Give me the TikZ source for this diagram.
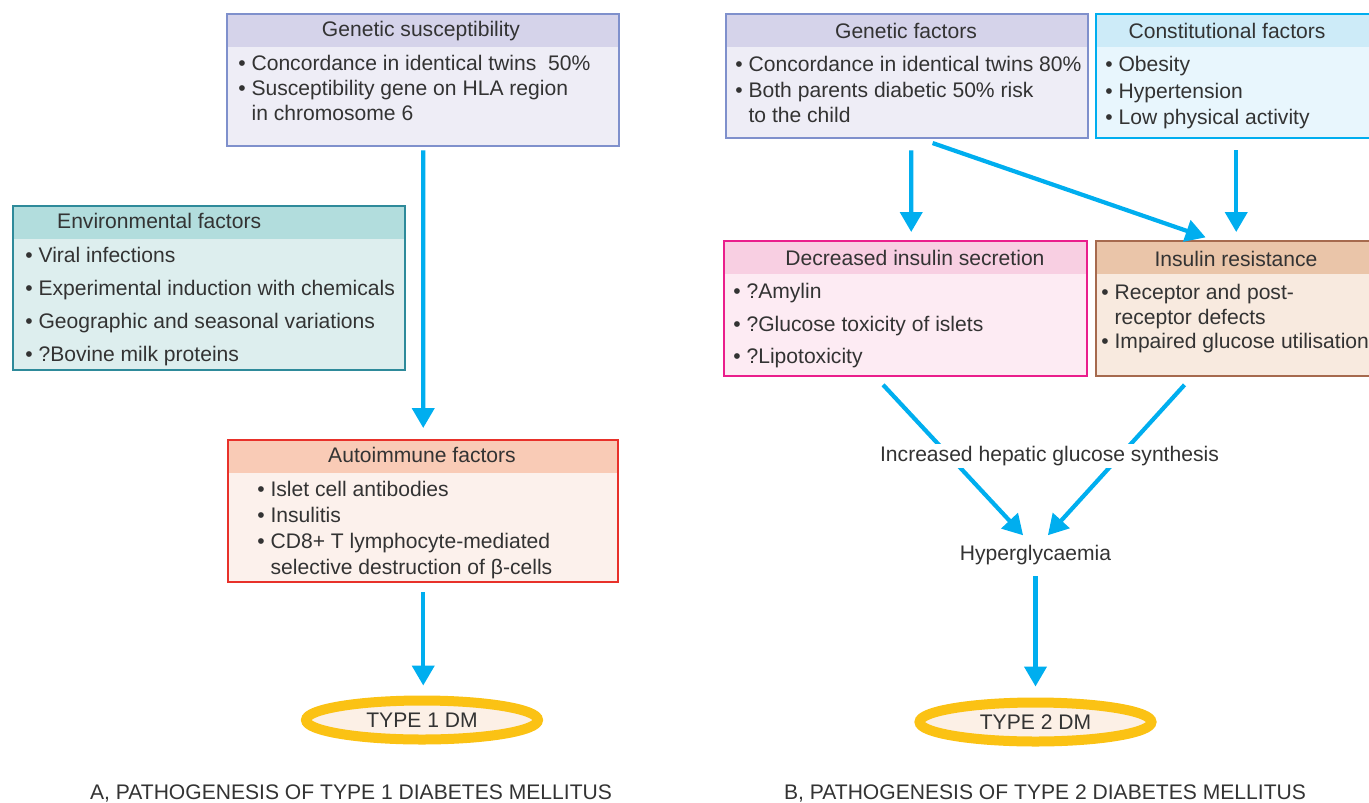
\documentclass[tikz,border=0pt]{standalone}
\usepackage{fontspec}
\setmainfont{Liberation Sans}
\usetikzlibrary{arrows.meta,shapes.geometric}

\definecolor{txt}{HTML}{333333}
\definecolor{arrowblue}{HTML}{00AEEF}
\definecolor{lilacline}{HTML}{7F90CC}
\definecolor{lilacbody}{HTML}{EEEDF6}
\definecolor{lilachead}{HTML}{D5D3EA}
\definecolor{tealline}{HTML}{2E8A9A}
\definecolor{tealbody}{HTML}{DDEEEE}
\definecolor{tealhead}{HTML}{B2DDDD}
\definecolor{redline}{HTML}{E8312A}
\definecolor{redbody}{HTML}{FCF1EC}
\definecolor{redhead}{HTML}{F9CBB6}
\definecolor{cyanbody}{HTML}{E8F6FD}
\definecolor{cyanhead}{HTML}{CDEBF8}
\definecolor{pinkline}{HTML}{EA1E8C}
\definecolor{pinkbody}{HTML}{FDEBF3}
\definecolor{pinkhead}{HTML}{F8CFE2}
\definecolor{brownline}{HTML}{A66A4E}
\definecolor{brownbody}{HTML}{F8EADF}
\definecolor{brownhead}{HTML}{EAC5A9}
\definecolor{ringline}{HTML}{FBC214}
\definecolor{ringbody}{HTML}{FCF0E6}

\begin{document}
\begin{tikzpicture}[
    every node/.style={
        text=txt,
        font=\fontsize{12}{14}\selectfont
    },
    box/.style n args={3}{
        draw=#1,
        fill=#2,
        line width=1.4pt,
        anchor=north west,
        inner sep=0pt,
        path picture={\fill[#3] (path picture bounding box.north west)
            rectangle ([yshift=-0.66cm]path picture bounding box.north east);}
    },
    items/.style={
        align=left,
        anchor=north west,
        inner sep=0pt,
        font=\fontsize{12}{#1}\selectfont
    },
    ring/.style={
        ellipse,
        draw=ringline,
        fill=ringbody,
        line width=0.2cm,
        minimum width=4.64cm,
        minimum height=0.78cm
    },
    arr/.style={
        draw=arrowblue,
        line width=2.4pt,
        -{Triangle[length=0.40cm,width=0.44cm]},
        arrowblue
    }
]
\useasboundingbox (0,0) rectangle (27.38,-16.04);

% Type 1
\node[box={lilacline}{lilacbody}{lilachead}, minimum width=7.84cm, minimum height=2.64cm] (gs) at (4.52,-0.26) {};
\node (gs_title) at (8.42,-0.62) {Genetic susceptibility};
\node[items=0.5cm] (gs_list) at (4.76,-1.10)
{
\textbullet\ Concordance in identical twins\ \ 50\%\\
\textbullet\ Susceptibility gene on HLA region\\
\hphantom{\textbullet\ }in chromosome 6
};

\node[box={tealline}{tealbody}{tealhead}, minimum width=7.84cm, minimum height=3.28cm] (env) at (0.24,-4.10) {};
\node[anchor=west] (env_title) at (1.02,-4.42) {Environmental factors};
\node[items=0.66cm] (env_list) at (0.50,-4.94)
{
\textbullet\ Viral infections\\
\textbullet\ Experimental induction with chemicals\\
\textbullet\ Geographic and seasonal variations\\
\textbullet\ ?Bovine milk proteins
};

\node[box={redline}{redbody}{redhead}, minimum width=7.80cm, minimum height=2.84cm] (auto) at (4.54,-8.78) {};
\node (auto_title) at (8.44,-9.10) {Autoimmune factors};
\node[items=0.52cm] (auto_list) at (5.14,-9.62)
{
\textbullet\ Islet cell antibodies\\
\textbullet\ Insulitis\\
\textbullet\ CD8+ T lymphocyte-mediated\\
\hphantom{\textbullet\ }selective destruction of β-cells
};

\node[ring] (t1) at (8.44,-14.40) {TYPE 1 DM};

% Type 2
\node[box={lilacline}{lilacbody}{lilachead}, minimum width=7.24cm, minimum height=2.48cm] (gf) at (14.50,-0.26) {};
\node (gf_title) at (18.12,-0.62) {Genetic factors};
\node[items=0.51cm] (gf_list) at (14.70,-1.12)
{
\textbullet\ Concordance in identical twins 80\%\\
\textbullet\ Both parents diabetic 50\% risk\\
\hphantom{\textbullet\ }to the child
};

\node[box={arrowblue}{cyanbody}{cyanhead}, minimum width=5.60cm, minimum height=2.48cm] (cf) at (21.90,-0.26) {};
\node (cf_title) at (24.54,-0.62) {Constitutional factors};
\node[items=0.53cm] (cf_list) at (22.10,-1.12)
{
\textbullet\ Obesity\\
\textbullet\ Hypertension\\
\textbullet\ Low physical activity
};

\node[box={pinkline}{pinkbody}{pinkhead}, minimum width=7.26cm, minimum height=2.70cm] (dis) at (14.46,-4.80) {};
\node (dis_title) at (18.30,-5.16) {Decreased insulin secretion};
\node[items=0.65cm] (dis_list) at (14.66,-5.66)
{
\textbullet\ ?Amylin\\
\textbullet\ ?Glucose toxicity of islets\\
\textbullet\ ?Lipotoxicity
};

\node[box={brownline}{brownbody}{brownhead}, minimum width=5.60cm, minimum height=2.70cm] (ir) at (21.90,-4.80) {};
\node (ir_title) at (24.72,-5.18) {Insulin resistance};
\node[items=0.49cm] (ir_list) at (22.02,-5.68)
{
\textbullet\ Receptor and post-\\
\hphantom{\textbullet\ }receptor defects\\
\textbullet\ Impaired glucose utilisation
};

\node[ring] (t2) at (20.71,-14.44) {TYPE 2 DM};
\node (hyp) at (20.71,-11.10) {Hyperglycaemia};

% Captions
\node (cap_a) at (7.02,-15.86) {A, PATHOGENESIS OF TYPE 1 DIABETES MELLITUS};
\node (cap_b) at (20.90,-15.86) {B, PATHOGENESIS OF TYPE 2 DIABETES MELLITUS};

% Connections
\draw[arr, shorten <=0.06cm, shorten >=0.22cm] (gs.south) -- (auto.north);
\draw[arr, shorten <=0.18cm, shorten >=0.20cm] (auto.south) -- (auto.south |- t1.north);

\draw[arr, shorten <=0.22cm, shorten >=0.16cm] ([xshift=0.08cm]gf.south) -- ([xshift=0.11cm]dis.north);
\draw[arr, shorten <=0.22cm, shorten >=0.16cm] ([xshift=0.30cm]gf.south) -- ([xshift=-0.46cm]ir.north);
\draw[arr, shorten <=0.22cm, shorten >=0.16cm] (cf.south) -- (ir.north);

\draw[arr, shorten <=0.20cm, shorten >=0.10cm] ([xshift=-0.59cm]dis.south) -- ([xshift=-0.18cm]hyp.north);
\draw[arr, shorten <=0.20cm, shorten >=0.10cm] ([xshift=-0.90cm]ir.south) -- ([xshift=0.18cm]hyp.north);
\draw[arr, shorten <=0.10cm, shorten >=0.22cm] (hyp.south) -- (t2.north);

\node[fill=white, inner sep=1pt] (ihgs) at (20.99,-9.12) {Increased hepatic glucose synthesis};

\end{tikzpicture}
\end{document}
